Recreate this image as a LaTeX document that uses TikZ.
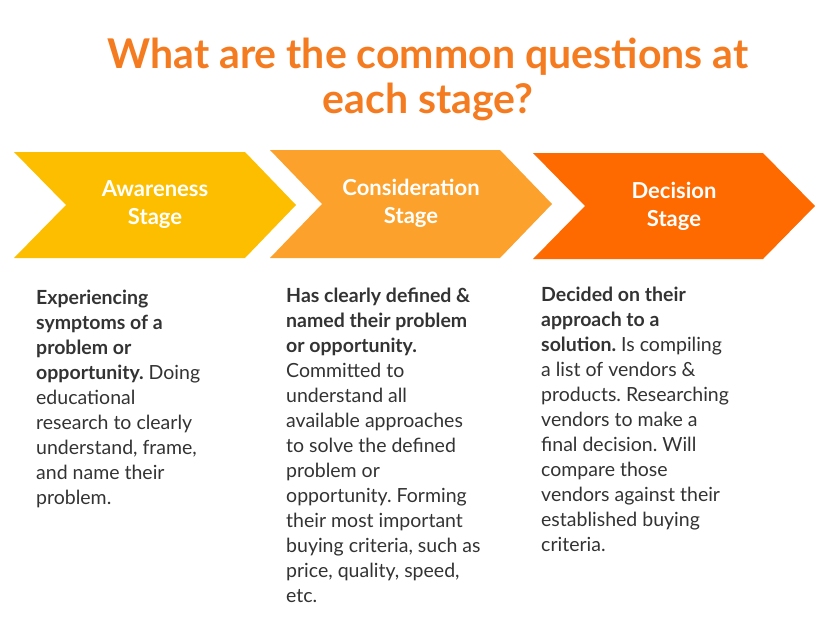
\documentclass[tikz,border=0pt]{standalone}
\usepackage{fontspec}
\setmainfont{Lato}
\frenchspacing
\definecolor{titleor}{HTML}{F47B20}
\definecolor{awareY}{HTML}{FDBE00}
\definecolor{considO}{HTML}{FCA12B}
\definecolor{decideR}{HTML}{FF6A00}
\definecolor{bodytxt}{HTML}{333333}

\begin{document}
\begin{tikzpicture}[x=1pt,y=-1pt,
    stagetxt/.style={text=white,font=\fontsize{22}{28}\selectfont\bfseries,align=center},
    bodybox/.style={anchor=north west,align=left,text=bodytxt,inner sep=0pt,
                    font=\fontsize{19.5}{25}\selectfont}]
    \useasboundingbox (0,0) rectangle (823,619);
    \node[text=titleor,font=\fontsize{41}{45}\selectfont\bfseries,align=center] (title) at (428,79)
        {What are the common questions at\\each stage?};
    % chevrons
    \fill[awareY] (14,152) -- (245,152) -- (296,205) -- (245,258) -- (14,258) -- (66,205) -- cycle;
    \fill[considO] (270,150) -- (500,150) -- (552,204) -- (500,258) -- (270,258) -- (322,204) -- cycle;
    \fill[decideR] (533,153) -- (763,153) -- (815,206) -- (763,259) -- (533,259) -- (585,206) -- cycle;
    \node[stagetxt] (aware) at (155,205) {Awareness\\Stage};
    \node[stagetxt] (consid) at (411,203) {Consideration\\Stage};
    \node[stagetxt] (decide) at (674,206) {Decision\\Stage};
    % descriptions
    \node[bodybox] (awaretxt) at (36,290) {\textbf{Experiencing}\\\textbf{symptoms of a}\\\textbf{problem or}\\\textbf{opportunity.} Doing\\educational\\research to clearly\\understand, frame,\\and name their\\problem.};
    \node[bodybox] (considtxt) at (286,288) {\textbf{Has clearly defined \&}\\\textbf{named their problem}\\\textbf{or opportunity.}\\Committed to\\understand all\\available approaches\\to solve the defined\\problem or\\opportunity. Forming\\their most important\\buying criteria, such as\\price, quality, speed,\\etc.};
    \node[bodybox] (decidetxt) at (541,287) {\textbf{Decided on their}\\\textbf{approach to a}\\\textbf{solution.} Is compiling\\a list of vendors \&\\products. Researching\\vendors to make a\\final decision. Will\\compare those\\vendors against their\\established buying\\criteria.};
\end{tikzpicture}
\end{document}
